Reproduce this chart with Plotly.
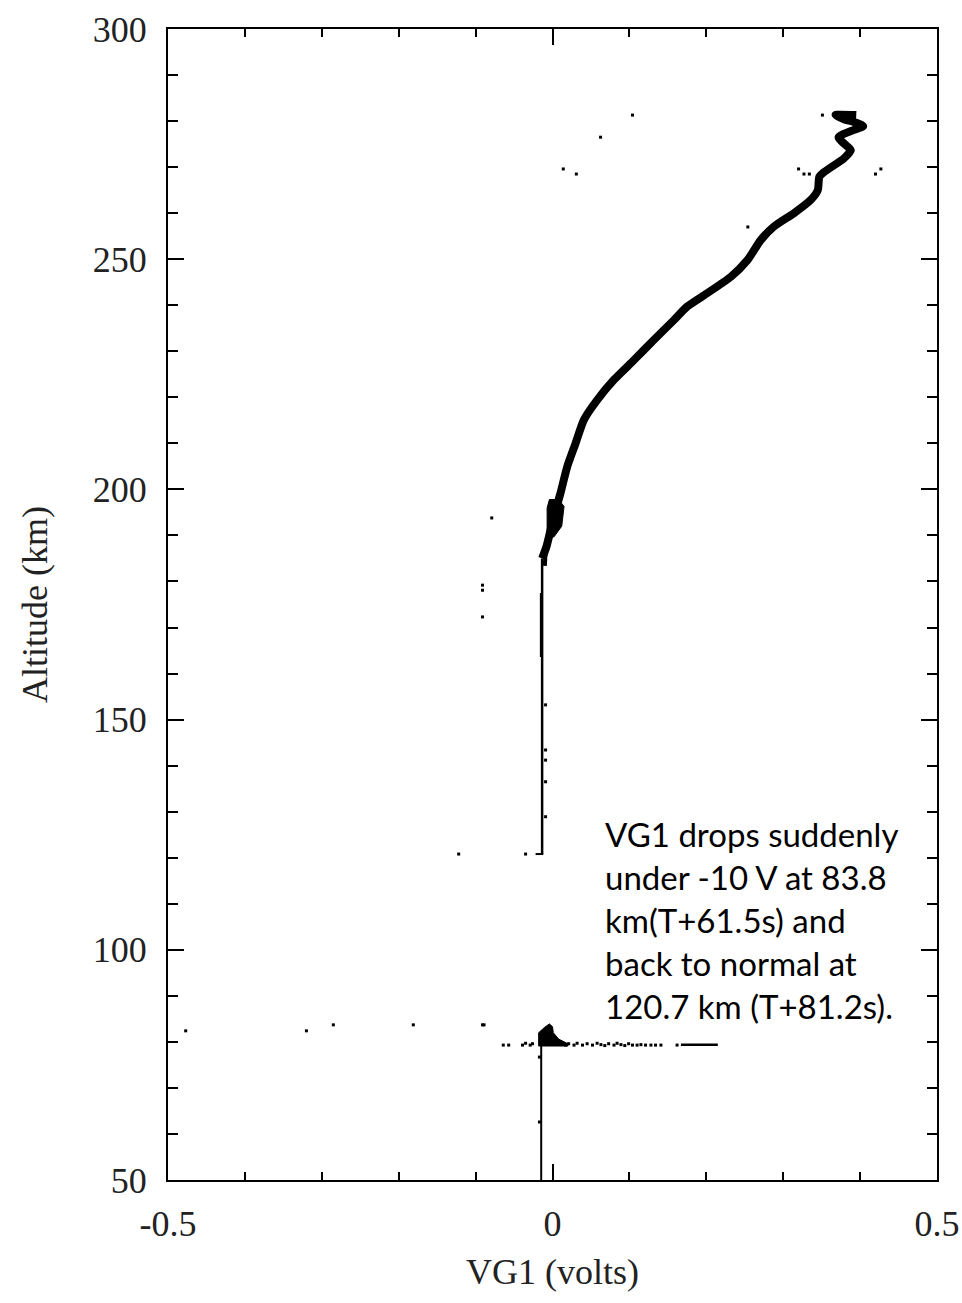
import plotly.graph_objects as go

# ---- data (VG1 volts, altitude km) ----
# main curve above ~187 km
curve_vg1 = [-0.0135, -0.0078, 0.0017, 0.0104, 0.0191, 0.030, 0.0408, 0.058, 0.0799, 0.106,
             0.132, 0.158, 0.175, 0.201, 0.232, 0.2535, 0.271, 0.288, 0.314, 0.336,
             0.345, 0.347, 0.353, 0.379, 0.388, 0.384, 0.372, 0.392, 0.404, 0.392, 0.379, 0.368, 0.395]
curve_alt = [185.0, 187.6, 194.1, 199.2, 204.9, 210.0, 215.1, 219.4, 223.8, 228.1,
             232.5, 236.8, 239.7, 242.6, 246.2, 249.8, 254.2, 257.1, 260.0, 262.9,
             265.0, 267.9, 268.9, 271.9, 273.7, 274.4, 276.5, 278.1, 278.9, 279.8, 280.4, 281.3, 281.3]

# upper near-vertical segment (after recovery)
upper_vg1 = [-0.0135, -0.0135, -0.0135, -0.0135]
upper_alt = [120.8, 150.0, 170.0, 185.0]
upper_thick_vg1 = [-0.010, -0.008]
upper_thick_alt = [183.4, 189.0]
upper_mid_vg1 = [-0.0145, -0.0145]
upper_mid_alt = [163.6, 177.5]
upper_dash_vg1 = [-0.022, -0.012]
upper_dash_alt = [120.8, 120.8]

# blob near 190-198 km
blob_hi_vg1 = [-0.007, -0.007, -0.004, 0.008, 0.015, 0.012, 0.002, -0.007]
blob_hi_alt = [189.5, 196.0, 197.8, 197.8, 196.3, 192.0, 189.7, 189.5]

# lower vertical segment (launch to ~80 km)
lower_vg1 = [-0.0147, -0.0147, -0.0147]
lower_alt = [50.0, 65.0, 79.6]

# blob near 80-84 km
blob_lo_vg1 = [-0.018, -0.018, -0.010, -0.004, 0.000, 0.001, 0.008, 0.020, 0.020, -0.018]
blob_lo_alt = [79.1, 82.0, 83.2, 83.9, 83.3, 82.0, 80.6, 79.6, 79.1, 79.1]

# horizontal spread of points near 79.5 km
spread_vg1 = [-0.064, -0.057, -0.039, -0.035, -0.029, -0.026, 0.017, 0.021, 0.028, 0.032,
              0.039, 0.045, 0.052, 0.058, 0.063, 0.068, 0.073, 0.080, 0.084, 0.089,
              0.094, 0.099, 0.104, 0.110, 0.115, 0.121, 0.128, 0.134, 0.141, 0.162]
spread_alt = [79.3, 79.3, 79.3, 79.7, 79.3, 79.6, 79.3, 79.6, 79.3, 79.7,
              79.3, 79.6, 79.3, 79.7, 79.4, 79.2, 79.6, 79.3, 79.7, 79.4,
              79.2, 79.6, 79.3, 79.3, 79.4, 79.3, 79.3, 79.3, 79.3, 79.3]
seg80_vg1 = [0.167, 0.215]
seg80_alt = [79.4, 79.4]

# isolated outlier points
out_vg1 = [0.104, 0.0625, 0.014, 0.031, 0.351, 0.320, 0.327, 0.334, 0.420, 0.427,
           0.254, -0.079, -0.091, -0.091, -0.091, -0.122, -0.035, -0.477, -0.320, -0.285,
           -0.181, -0.091, -0.089, -0.009, -0.009, -0.009, -0.009, -0.009, -0.017, -0.017]
out_alt = [281.3, 276.5, 269.6, 268.5, 281.3, 269.6, 268.5, 268.5, 268.5, 269.6,
           257.0, 193.8, 179.2, 178.1, 172.3, 120.8, 120.8, 82.4, 82.4, 83.7,
           83.7, 83.7, 83.7, 153.2, 143.4, 141.2, 136.5, 128.9, 76.7, 62.6]

x_tick_vals = [-0.5, 0, 0.5]
x_tick_text = ["-0.5", "0", "0.5"]
y_tick_vals = [50, 100, 150, 200, 250, 300]
y_tick_text = ["50", "100", "150", "200", "250", "300"]

note_text = ("VG1 drops suddenly<br>under -10 V at 83.8<br>km(T+61.5s) and"
             "<br>back to normal at<br>120.7 km (T+81.2s).")

BLACK = "black"
fig = go.Figure()
fig.add_trace(go.Scatter(x=lower_vg1, y=lower_alt, mode="lines",
                         line=dict(color=BLACK, width=2)))
fig.add_trace(go.Scatter(x=upper_vg1, y=upper_alt, mode="lines",
                         line=dict(color=BLACK, width=2.5)))
fig.add_trace(go.Scatter(x=upper_thick_vg1, y=upper_thick_alt, mode="lines",
                         line=dict(color=BLACK, width=4)))
fig.add_trace(go.Scatter(x=upper_mid_vg1, y=upper_mid_alt, mode="lines",
                         line=dict(color=BLACK, width=3)))
fig.add_trace(go.Scatter(x=upper_dash_vg1, y=upper_dash_alt, mode="lines",
                         line=dict(color=BLACK, width=2)))
fig.add_trace(go.Scatter(x=curve_vg1, y=curve_alt, mode="lines",
                         line=dict(color=BLACK, width=8, shape="spline", smoothing=0.6)))
fig.add_trace(go.Scatter(x=blob_hi_vg1, y=blob_hi_alt, mode="lines", fill="toself",
                         fillcolor=BLACK, line=dict(color=BLACK, width=1)))
fig.add_trace(go.Scatter(x=blob_lo_vg1, y=blob_lo_alt, mode="lines", fill="toself",
                         fillcolor=BLACK, line=dict(color=BLACK, width=1)))
fig.add_trace(go.Scatter(x=spread_vg1, y=spread_alt, mode="markers",
                         marker=dict(color=BLACK, size=3, symbol="square")))
fig.add_trace(go.Scatter(x=seg80_vg1, y=seg80_alt, mode="lines",
                         line=dict(color=BLACK, width=2.5)))
fig.add_trace(go.Scatter(x=out_vg1, y=out_alt, mode="markers",
                         marker=dict(color=BLACK, size=3, symbol="square")))

fig.add_annotation(x=0.066, y=129.9, xref="x", yref="y", xanchor="left", yanchor="top",
                   text=note_text, showarrow=False, align="left",
                   font=dict(family="Lato", size=33, color=BLACK))

axis_common = dict(showline=True, linecolor=BLACK, linewidth=2, mirror="ticks",
                   ticks="inside", tickcolor=BLACK, tickwidth=2, ticklen=16,
                   showgrid=False, zeroline=False, automargin=False,
                   tickfont=dict(family="Liberation Serif", size=36, color="#222"),
                   title_font=dict(family="Liberation Serif", size=36, color="#222"))

fig.update_xaxes(range=[-0.5, 0.5], tickvals=x_tick_vals, ticktext=x_tick_text,
                 minor=dict(ticks="inside", dtick=0.1, tick0=-0.5, ticklen=8,
                            tickcolor=BLACK, tickwidth=2),
                 title_text="VG1 (volts)", title_standoff=16, ticklabelstandoff=11,
                 **axis_common)
fig.update_yaxes(range=[50, 300], tickvals=y_tick_vals, ticktext=y_tick_text,
                 minor=dict(ticks="inside", dtick=10, tick0=50, ticklen=10,
                            tickcolor=BLACK, tickwidth=2),
                 title_text="Altitude (km)", title_standoff=34, ticklabelstandoff=12,
                 **axis_common)

fig.update_layout(width=962, height=1303, showlegend=False,
                  plot_bgcolor="white", paper_bgcolor="white",
                  margin=dict(l=168, r=25, t=29, b=123))
fig.write_html("out.html")
